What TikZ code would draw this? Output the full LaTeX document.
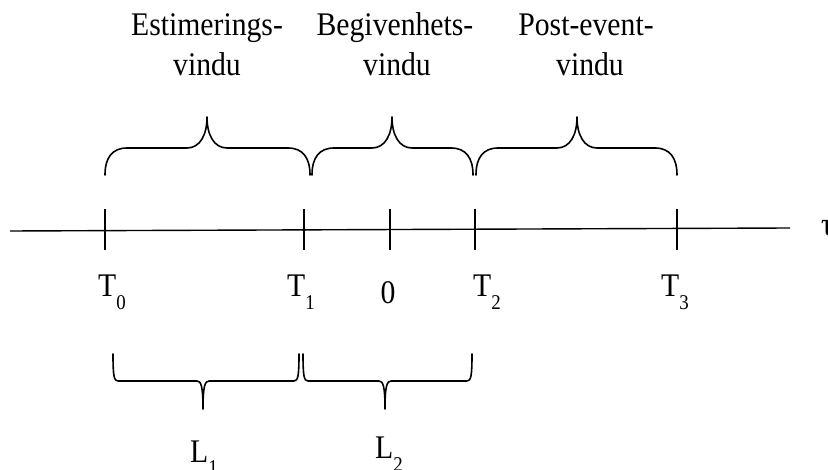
\documentclass[tikz,border=0pt]{standalone}
\usepackage{fontspec}
\setmainfont{Liberation Serif}[FakeStretch=0.9]

\tikzset{
  lbl/.style={font=\fontsize{33}{33}\selectfont, inner sep=0pt},
  axisline/.style={line width=1.4pt},
  tickline/.style={line width=1.4pt},
  bracepath/.style={line width=1.6pt, line cap=round, line join=round},
}
% subscript set in text font, lowered below the baseline
\newcommand\subidx[1]{\raisebox{-13pt}{\fontsize{21}{21}\selectfont #1}}

% curly brace opening downwards: left end, tip, right end
\newcommand\topbrace[3]{%
  \draw[bracepath] (#1,175) .. controls (#1,158) and (#1+7,148) .. (#1+22,148)
    -- (#2-20,148) .. controls (#2-7,148) and (#2,135) .. (#2,117)
    .. controls (#2,135) and (#2+7,148) .. (#2+20,148)
    -- (#3-22,148) .. controls (#3-7,148) and (#3,158) .. (#3,175);}
% curly brace opening upwards: left end, tip, right end
\newcommand\lowbrace[3]{%
  \draw[bracepath] (#1,354) .. controls (#1,376) and (#1+1,381) .. (#1+5,381)
    -- (#2-6,381) .. controls (#2-2,381) and (#2,386) .. (#2,409)
    .. controls (#2,386) and (#2+2,381) .. (#2+6,381)
    -- (#3-5,381) .. controls (#3-1,381) and (#3,376) .. (#3,354);}

\begin{document}
\begin{tikzpicture}[x=1pt,y=-1pt]
  \useasboundingbox (0,0) rectangle (828,470);

  % window titles
  \node[lbl, anchor=base] (est1) at (207,36) {Estimerings-};
  \node[lbl, anchor=base] (est2) at (207,76) {vindu};
  \node[lbl, anchor=base] (beg1) at (395,36) {Begivenhets-};
  \node[lbl, anchor=base] (beg2) at (397,76) {vindu};
  \node[lbl, anchor=base] (post1) at (586,36) {Post-event-};
  \node[lbl, anchor=base] (post2) at (590,76) {vindu};

  % windows above the axis
  \topbrace{105}{207}{310}
  \topbrace{312}{392}{473}
  \topbrace{476}{577}{677}

  % time axis
  \coordinate (axL) at (10,231);
  \coordinate (axR) at (790,228);
  \draw[axisline] (axL) -- (axR);
  \node[lbl, anchor=base west] (tau) at (821,236) {τ};

  % ticks
  \foreach \name/\x in {t0/105, t1/304, zero/390, t2/475, t3/677}{
    \draw[tickline] (\x,209) coordinate (\name top) -- (\x,250) coordinate (\name bot);
  }

  % tick labels
  \node[lbl, anchor=base west] (T0) at (98,297) {T\subidx{0}};
  \node[lbl, anchor=base west] (T1) at (287,297) {T\subidx{1}};
  \node[lbl, anchor=base] (Z) at (388,304) {0};
  \node[lbl, anchor=base west] (T2) at (473,297) {T\subidx{2}};
  \node[lbl, anchor=base west] (T3) at (661,297) {T\subidx{3}};

  % lengths below the axis
  \lowbrace{113}{203}{299}
  \lowbrace{303}{385}{472}

  \node[lbl, anchor=base west] (L1) at (190,462) {L\subidx{1}};
  \node[lbl, anchor=base west] (L2) at (375,459) {L\subidx{2}};
\end{tikzpicture}
\end{document}
